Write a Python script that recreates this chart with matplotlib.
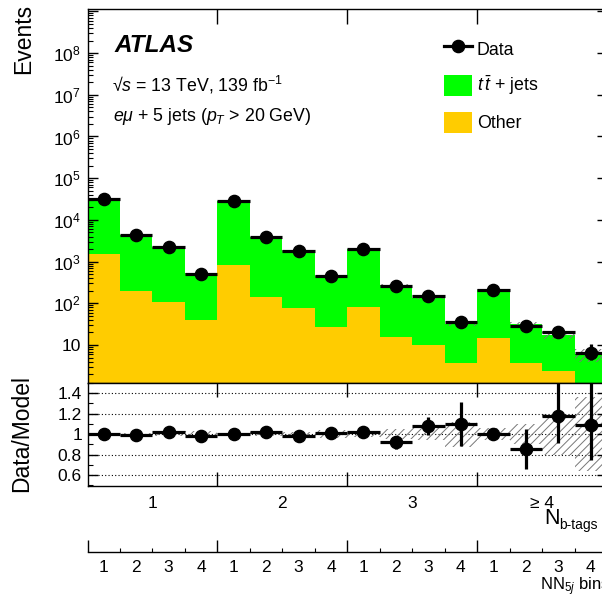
import numpy as np
import matplotlib
matplotlib.use('Agg')
import matplotlib.pyplot as plt
from matplotlib.lines import Line2D
from matplotlib.patches import Patch
from matplotlib.ticker import FixedLocator, FuncFormatter, NullFormatter
import matplotlib.transforms as mtransforms

plt.rcParams['font.family'] = ['Liberation Sans', 'DejaVu Sans']
plt.rcParams['mathtext.fontset'] = 'custom'
plt.rcParams['mathtext.rm'] = 'Liberation Sans'
plt.rcParams['mathtext.it'] = 'Liberation Sans:italic'
plt.rcParams['mathtext.bf'] = 'Liberation Sans:bold'
plt.rcParams['hatch.linewidth'] = 0.7
plt.rcParams['hatch.color'] = '#777777'

# ---------------- data ----------------
btag_groups = ['1', '2', '3', '≥ 4']
nn_bins = ['1', '2', '3', '4']
data = np.array([31000, 4300, 2200, 515, 29000, 4000, 1800, 460,
                 2050, 257, 147, 35, 213, 28, 21, 6.5])
data_err_lo = np.array([176, 66, 47, 23, 170, 63, 42, 21, 45, 16, 12, 6, 15, 5.3, 4.4, 2.0])
data_err_hi = np.array([176, 66, 47, 23, 170, 63, 42, 21, 45, 16, 12, 6, 15, 5.3, 5.5, 4.1])
ttbar = np.array([29500, 4140, 2050, 486, 28150, 3780, 1760, 428,
                  1930, 263, 126, 28.3, 198, 28.8, 15.5, 5.1])
other = np.array([1500, 200, 110, 39, 850, 142, 77, 27,
                  80, 16, 10, 3.7, 15, 3.7, 2.35, 0.9])
ratio = np.array([1.00, 0.99, 1.02, 0.98, 1.00, 1.02, 0.98, 1.01,
                  1.02, 0.92, 1.08, 1.10, 1.00, 0.86, 1.175, 1.09])
ratio_err_lo = np.array([0.006, 0.015, 0.02, 0.045, 0.006, 0.016, 0.024, 0.047,
                         0.022, 0.06, 0.085, 0.21, 0.06, 0.195, 0.26, 0.34])
ratio_err_hi = np.array([0.006, 0.015, 0.02, 0.045, 0.006, 0.016, 0.024, 0.047,
                         0.022, 0.06, 0.085, 0.21, 0.06, 0.195, 0.35, 0.69])
mc_unc = np.array([0.01, 0.015, 0.02, 0.03, 0.01, 0.02, 0.025, 0.04,
                   0.03, 0.05, 0.06, 0.12, 0.06, 0.10, 0.20, 0.36])

nbins = len(data)
edges = np.arange(nbins + 1)
centers = edges[:-1] + 0.5
total = ttbar + other

GREEN = '#00ff00'
ORANGE = '#ffcc00'
HATCH = '////'

W, H = 602, 595
fig = plt.figure(figsize=(W / 100, H / 100), dpi=100)


def fx(x):
    return x / W


def fy(y):
    return 1 - y / H


left_px, right_px = 87.5, 607.0
main_top, main_bot = 9.3, 383.0
rat_top, rat_bot = 383.0, 486.0
nn_line = 551.7

ax = fig.add_axes([fx(left_px), fy(main_bot), fx(right_px - left_px), (main_bot - main_top) / H])
axr = fig.add_axes([fx(left_px), fy(rat_bot), fx(right_px - left_px), (rat_bot - rat_top) / H])
axn = fig.add_axes([fx(left_px), fy(nn_line), fx(right_px - left_px), 0.03])

# ---------------- main panel ----------------
ax.stairs(total, edges, baseline=1e-3, fill=True, color=GREEN, lw=0, zorder=1)
ax.stairs(other, edges, baseline=1e-3, fill=True, color=ORANGE, lw=0, zorder=1.1)
ax.fill_between(edges, np.r_[total * (1 - mc_unc), total[-1] * (1 - mc_unc[-1])],
                np.r_[total * (1 + mc_unc), total[-1] * (1 + mc_unc[-1])],
                step='post', facecolor='none', edgecolor='#777777', hatch=HATCH, lw=0, zorder=1.2)
ax.errorbar(centers, data, xerr=0.5, yerr=[data_err_lo, data_err_hi], fmt='o', color='black',
            ms=8.8, elinewidth=2.3, capsize=0, zorder=3)

ax.set_yscale('log')
ax.set_xlim(0, nbins)
ax.set_ylim(1.23, 1.12e9)
ax.yaxis.set_major_locator(FixedLocator([10.0 ** k for k in range(1, 10)]))


def logfmt(v, pos):
    k = int(round(np.log10(v)))
    if k == 1:
        return '10'
    if k > 8:
        return ''
    return r'$10^{%d}$' % k


ax.yaxis.set_major_formatter(FuncFormatter(logfmt))
ax.yaxis.set_minor_locator(FixedLocator([m * 10.0 ** k for k in range(0, 9) for m in range(2, 10)]))
ax.yaxis.set_minor_formatter(NullFormatter())
ax.set_xticks([4, 8, 12])
ax.tick_params(axis='x', which='major', direction='in', top=True, bottom=False,
               length=10.8, width=1.0, labelbottom=False)
ax.tick_params(axis='y', which='major', direction='in', left=True, right=True,
               length=7, width=1.0, labelsize=12.5, pad=5)
ax.tick_params(axis='y', which='minor', direction='in', left=True, right=True,
               length=3.6, width=0.8)
for s in ax.spines.values():
    s.set_linewidth(1.0)

# texts
fig.text(fx(115), fy(51.7), 'ATLAS', fontsize=17.5, fontweight='bold', fontstyle='italic',
         ha='left', va='baseline')
fig.text(fx(112), fy(91.7), '√$s$ = 13 TeV, 139 fb$^{-1}$', fontsize=12.8,
         ha='left', va='baseline')
fig.text(fx(113), fy(120.7), r'$e\mu$ + 5 jets ($p_T$ > 20 GeV)', fontsize=12.8,
         ha='left', va='baseline')

handles = [Line2D([], [], color='black', marker='o', ms=8.8, lw=2.3),
           Patch(facecolor=GREEN, edgecolor='none'),
           Patch(facecolor=ORANGE, edgecolor='none')]
labels = ['Data', r'$t\,\bar{t}$ + jets', 'Other']
fig.legend(handles, labels, loc='upper left', bbox_to_anchor=(fx(444), fy(38)),
           frameon=False, fontsize=12.8, handlelength=1.55, handleheight=1.5,
           labelspacing=0.8, handletextpad=0.3, borderpad=0, borderaxespad=0)

fig.text(fx(24), fy(4), 'Events', rotation=90, fontsize=16.5, ha='center', va='top')

# ---------------- ratio panel ----------------
axr.fill_between(edges, np.r_[1 - mc_unc, 1 - mc_unc[-1]], np.r_[1 + mc_unc, 1 + mc_unc[-1]],
                 step='post', facecolor='none', edgecolor='#777777', hatch=HATCH, lw=0, zorder=1)
for g in [0.6, 0.8, 1.0, 1.2, 1.4]:
    axr.axhline(g, color='black', lw=0.8, ls=(0, (1, 2)), zorder=0.5)
axr.errorbar(centers, ratio, xerr=0.5, yerr=[ratio_err_lo, ratio_err_hi], fmt='o', color='black',
             ms=8.8, elinewidth=2.3, capsize=0, zorder=3)
axr.set_xlim(0, nbins)
axr.set_ylim(0.495, 1.5)
axr.set_yticks([0.6, 0.8, 1.0, 1.2, 1.4], ['0.6', '0.8', '1', '1.2', '1.4'])
axr.set_yticks(np.arange(0.5, 1.51, 0.1), minor=True)
axr.set_xticks([4, 8, 12])
axr.tick_params(axis='x', which='major', direction='in', top=True, bottom=True,
                length=10, width=1.0, labelbottom=False)
axr.tick_params(axis='y', which='major', direction='in', left=True, right=True,
                length=7, width=1.0, labelsize=12.5, pad=4)
axr.tick_params(axis='y', which='minor', direction='in', left=True, right=True,
                length=3.6, width=0.8)
for s in axr.spines.values():
    s.set_linewidth(1.0)

fig.text(fx(22), fy(434), 'Data/Model', rotation=90, fontsize=16.5, ha='center', va='center')

trans_r = mtransforms.blended_transform_factory(axr.transData, fig.transFigure)
for i, g in enumerate(btag_groups):
    axr.text(4 * i + 2, fy(503), g, transform=trans_r, fontsize=12.5, ha='center', va='center')
fig.text(fx(544), fy(523.5), 'N', fontsize=15.5, ha='left', va='baseline')
fig.text(fx(559), fy(528.5), 'b-tags', fontsize=10, ha='left', va='baseline')

# ---------------- NN bin axis ----------------
axn.set_xlim(0, nbins)
axn.set_ylim(0, 1)
axn.patch.set_visible(False)
for k in ['left', 'right', 'top']:
    axn.spines[k].set_visible(False)
axn.spines['bottom'].set_linewidth(1.0)
axn.set_yticks([])
axn.set_xticks([0, 4, 8, 12, 16])
axn.set_xticks(np.arange(1, nbins), minor=True)
axn.tick_params(axis='x', which='major', direction='in', length=9, width=1.0, labelbottom=False)
axn.tick_params(axis='x', which='minor', direction='in', length=3, width=0.8, labelbottom=False)
trans_n = mtransforms.blended_transform_factory(axn.transData, fig.transFigure)
for i in range(nbins):
    axn.text(centers[i], fy(567), nn_bins[i % 4], transform=trans_n, fontsize=12.5,
             ha='center', va='center')
fig.text(fx(540), fy(590), r'NN$_{5j}$ bins', fontsize=12, ha='left', va='baseline')

fig.savefig('out.png', dpi=100)
